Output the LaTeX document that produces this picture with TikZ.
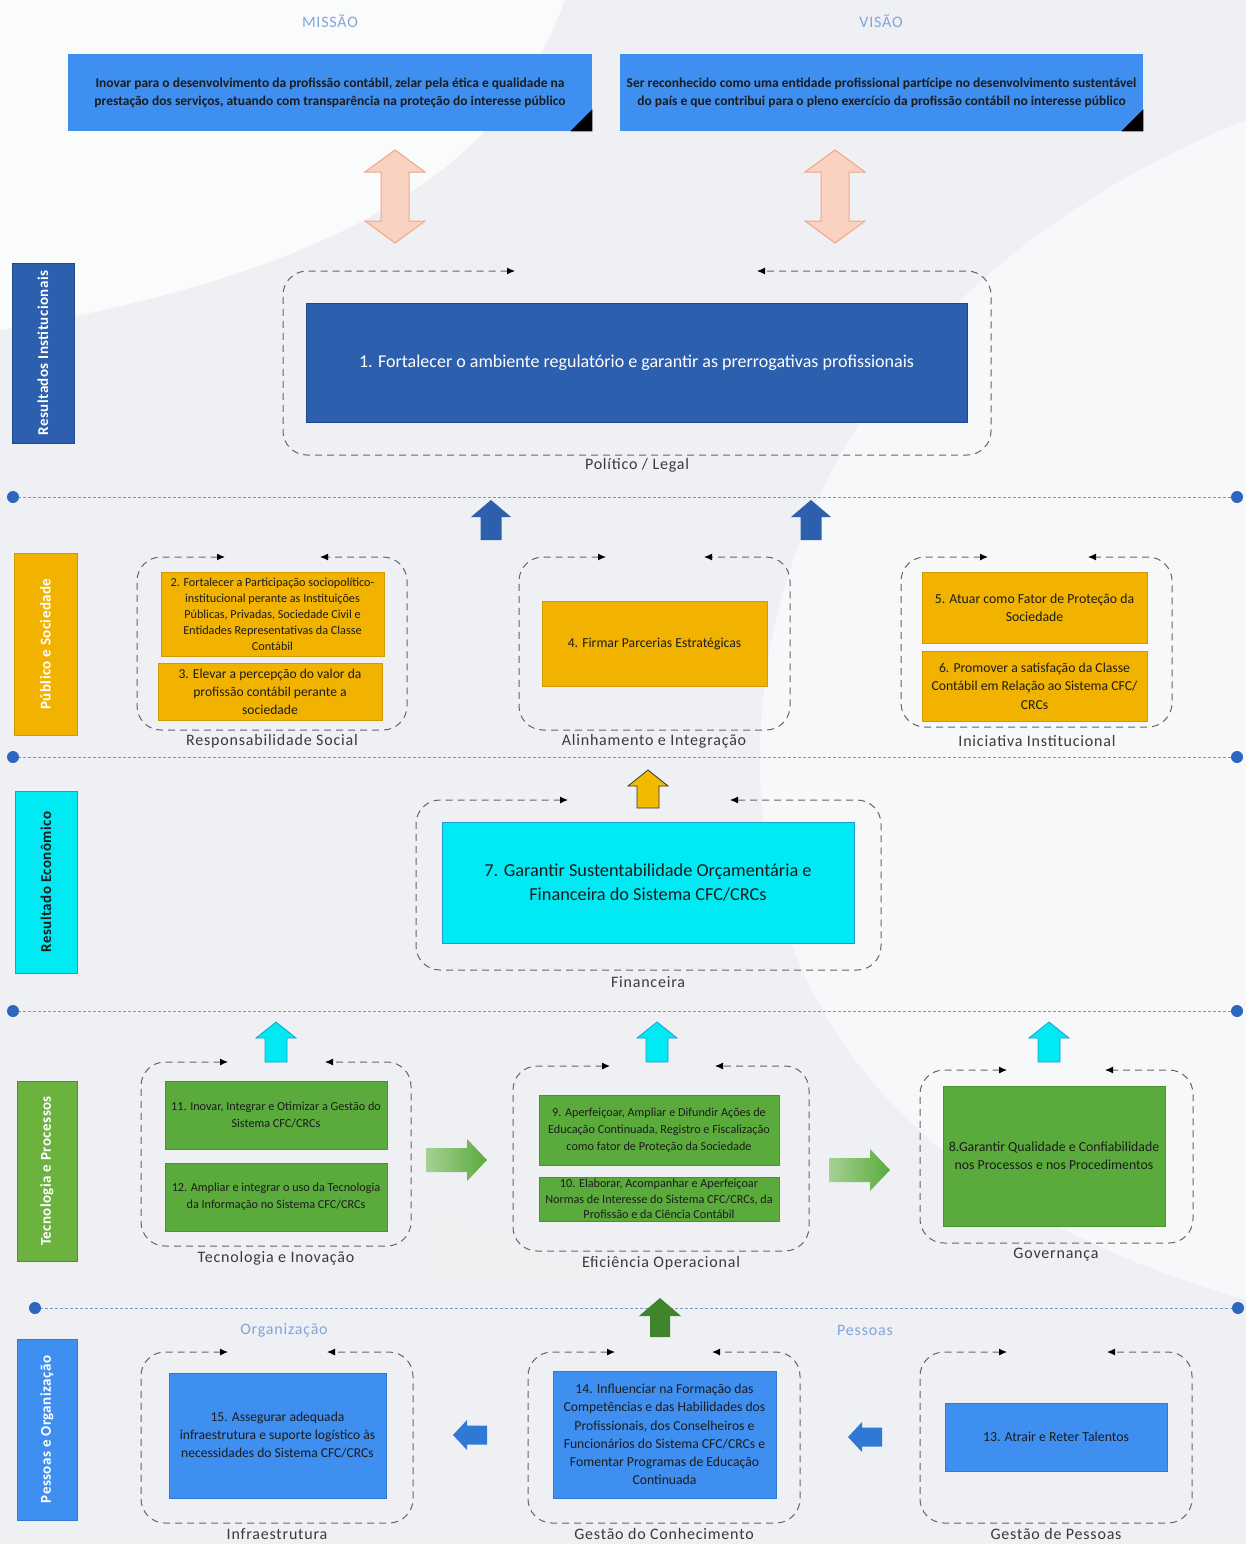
\documentclass[tikz,border=0pt]{standalone}
\usepackage{fontspec}
\setmainfont{Carlito}
\newfontfamily\lblfont[LetterSpace=5]{Carlito}
\newfontfamily\sidefont[LetterSpace=3]{Carlito}
\usetikzlibrary{arrows.meta,calc}
\definecolor{bgc}{HTML}{EFF0F3}
\definecolor{lblue}{HTML}{3F8FF0}
\definecolor{lbluedk}{HTML}{2F78D6}
\definecolor{dblue}{HTML}{2C5FAE}
\definecolor{dbluedk}{HTML}{1F4A8A}
\definecolor{gold}{HTML}{F2B300}
\definecolor{golddk}{HTML}{D49800}
\definecolor{cyanc}{HTML}{00EAF4}
\definecolor{cyandk}{HTML}{1E9CD2}
\definecolor{grn}{HTML}{5BAB3C}
\definecolor{grndk}{HTML}{479330}
\definecolor{sidegrn}{HTML}{6BB23F}
\definecolor{peach}{HTML}{FAD2C2}
\definecolor{peachdk}{HTML}{EFA588}
\definecolor{headc}{HTML}{7FA6DC}
\definecolor{sepc}{HTML}{7B97C9}
\definecolor{sepdot}{HTML}{2D66C0}
\definecolor{txt}{HTML}{1C1C1C}
\definecolor{lbl}{HTML}{3A3A3A}
\newcommand\barrow[8]{%
\path[#1,shift={(#2,#3)},rotate=#4] (-#5/2,-#8/2) -- ({#5/2-#6},-#8/2) -- ({#5/2-#6},-#7/2) -- (#5/2,0) -- ({#5/2-#6},#7/2) -- ({#5/2-#6},#8/2) -- (-#5/2,#8/2) -- cycle;}
\newcommand\dbarrow[7]{%
\path[#1,shift={(#2,#3)},rotate=90] (-#4/2,0) -- ({-#4/2+#5},-#6/2) -- ({-#4/2+#5},-#7/2) -- ({#4/2-#5},-#7/2) -- ({#4/2-#5},-#6/2) -- (#4/2,0) -- ({#4/2-#5},#6/2) -- ({#4/2-#5},#7/2) -- ({-#4/2+#5},#7/2) -- ({-#4/2+#5},#6/2) -- cycle;}
\newcommand\cont[6]{\draw[contour] (#5,#2) -- (#1,#2) -- (#1,#4) -- (#3,#4) -- (#3,#2) -- (#6,#2);}
\begin{document}
\begin{tikzpicture}[x=1pt,y=-1pt,
  box/.style={inner sep=2pt,align=center,text=txt,line width=0.6pt},
  bluebox/.style={box,fill=lblue,draw=lbluedk},
  goldbox/.style={box,fill=gold,draw=golddk},
  grnbox/.style={box,fill=grn,draw=grndk},
  cyanbox/.style={box,fill=cyanc,draw=cyandk},
  side/.style={rotate=90,inner sep=0pt,font=\sidefont\fontsize{15}{17}\selectfont\bfseries,text=white,line width=0.6pt},
  grplbl/.style={font=\lblfont\fontsize{16}{18}\selectfont,text=lbl},
  headlbl/.style={font=\lblfont\fontsize{16}{18}\selectfont,text=headc},
  contour/.style={draw=black!60,line width=1pt,dash pattern=on 7pt off 5pt,rounded corners=24pt,
    {Latex[length=8pt,width=7pt,color=black]}-{Latex[length=8pt,width=7pt,color=black]}},
  sepline/.style={draw=sepc,line width=1pt,dash pattern=on 2.5pt off 2.5pt},
  sepend/.style={fill=sepdot}]
\useasboundingbox (0,0) rectangle (1246,1544);
% background
\fill[bgc] (0,0) rectangle (1246,1544);
\fill[white,opacity=0.75] (0,0) -- (565,0) .. controls (520,120) and (420,260) .. (0,330) -- cycle;
\fill[white,opacity=0.55] (1246,120) .. controls (900,260) and (760,520) .. (760,760) .. controls (760,1000) and (900,1200) .. (1246,1300) -- cycle;
\fill[black!6,opacity=0.6] (430,1200) -- (640,1290) -- (430,1290) -- cycle;
% headers
\node[headlbl] (hm) at (330,21) {MISSÃO};
\node[headlbl] (hv) at (881,21) {VISÃO};
\node[bluebox,draw=none,minimum width=524pt,minimum height=77pt,font=\fontsize{13.5}{18}\selectfont\bfseries] (mis) at (330,92.5)
 {Inovar para o desenvolvimento da profissão contábil, zelar pela ética e qualidade na\\prestação dos serviços, atuando com transparência na proteção do interesse público};
\fill[black] (mis.south east) -- ++(-22,0) -- ++(22,-22) -- cycle;
\node[bluebox,draw=none,minimum width=523pt,minimum height=77pt,font=\fontsize{13.5}{18}\selectfont\bfseries] (vis) at (881.5,92.5)
 {Ser reconhecido como uma entidade profissional partícipe no desenvolvimento sustentável\\do país e que contribui para o pleno exercício da profissão contábil no interesse público};
\fill[black] (vis.south east) -- ++(-22,0) -- ++(22,-22) -- cycle;
% peach double arrows
\dbarrow{fill=peach,draw=peachdk,line width=1pt}{395}{196.5}{93}{22}{60}{28}
\dbarrow{fill=peach,draw=peachdk,line width=1pt}{835}{196.5}{93}{22}{60}{28}
% side labels
\node[side,fill=dblue,draw=dbluedk,minimum width=180pt,minimum height=62pt] (s1) at (43,353) {Resultados Institucionais};
\node[side,fill=gold,draw=golddk,minimum width=182pt,minimum height=63pt] (s2) at (45.5,644) {Público e Sociedade};
\node[side,fill=cyanc,draw=cyandk,text=txt,minimum width=182pt,minimum height=62pt] (s3) at (46,882) {Resultado Econômico};
\node[side,fill=sidegrn,draw=grndk,minimum width=180pt,minimum height=60pt] (s4) at (47,1171) {Tecnologia e Processos};
\node[side,fill=lblue,draw=lbluedk,minimum width=181pt,minimum height=60pt] (s5) at (47,1429.5) {Pessoas e Organização};
% level 1
\cont{283}{271}{991}{455}{515}{757}
\node[box,fill=dblue,draw=dbluedk,text=white,minimum width=661pt,minimum height=119pt,font=\fontsize{18}{21}\selectfont] (b1) at (636.5,362.5)
 {1. Fortalecer o ambiente regulatório e garantir as prerrogativas profissionais};
\node[grplbl] (g1) at (637,465) {Político / Legal};
% separator 1
\coordinate (p1a) at (13,497); \coordinate (p1b) at (1237,497);
\draw[sepline] (p1a) -- (p1b);
\fill[sepend] (p1a) circle (6); \fill[sepend] (p1b) circle (6);
\barrow{fill=dblue}{491}{520}{90}{40}{17}{40}{21}
\barrow{fill=dblue}{811}{520}{90}{40}{17}{40}{21}
% level 2
\cont{137}{557}{407}{730}{225}{320}
\node[goldbox,minimum width=223pt,minimum height=84pt,font=\fontsize{12.2}{16}\selectfont] (b2) at (272.5,614)
 {2. Fortalecer a Participação sociopolítico-\\institucional perante as Instituições\\Públicas, Privadas, Sociedade Civil e\\Entidades Representativas da Classe\\Contábil};
\node[goldbox,minimum width=224pt,minimum height=57pt,font=\fontsize{13.6}{18}\selectfont] (b3) at (270,691.5)
 {3. Elevar a percepção do valor da\\profissão contábil perante a\\sociedade};
\node[grplbl] (g2) at (272,741) {Responsabilidade Social};
\cont{519}{557}{790}{730}{606}{704}
\node[goldbox,minimum width=225pt,minimum height=85pt,font=\fontsize{13.7}{18}\selectfont] (b4) at (654.5,643.5)
 {4. Firmar Parcerias Estratégicas};
\node[grplbl] (g3) at (654,741) {Alinhamento e Integração};
\cont{901}{557}{1172}{727}{988}{1088}
\node[goldbox,minimum width=225pt,minimum height=71pt,font=\fontsize{13.8}{18}\selectfont] (b5) at (1034.5,607.5)
 {5. Atuar como Fator de Proteção da\\Sociedade};
\node[goldbox,minimum width=225pt,minimum height=70pt,font=\fontsize{13.7}{18.5}\selectfont] (b6) at (1034.5,686)
 {6. Promover a satisfação da Classe\\Contábil em Relação ao Sistema CFC/\\CRCs};
\node[grplbl] (g4) at (1037,741) {Iniciativa Institucional};
% separator 2
\coordinate (p2a) at (13,757); \coordinate (p2b) at (1237,757);
\draw[sepline] (p2a) -- (p2b);
\fill[sepend] (p2a) circle (6); \fill[sepend] (p2b) circle (6);
\barrow{fill=gold!90!yellow,draw=black!80,line width=0.8pt}{648}{789}{90}{38}{16}{40}{22}
% level 3
\cont{416}{800}{881}{970}{568}{730}
\node[cyanbox,minimum width=412pt,minimum height=121pt,font=\fontsize{18.3}{24}\selectfont] (b7) at (648,882.5)
 {7. Garantir Sustentabilidade Orçamentária e\\Financeira do Sistema CFC/CRCs};
\node[grplbl] (g5) at (648,982) {Financeira};
% separator 3
\coordinate (p3a) at (13,1011); \coordinate (p3b) at (1237,1011);
\draw[sepline] (p3a) -- (p3b);
\fill[sepend] (p3a) circle (6); \fill[sepend] (p3b) circle (6);
\barrow{fill=cyanc,draw=cyandk,line width=0.8pt}{276}{1042}{90}{40}{16}{40}{22}
\barrow{fill=cyanc,draw=cyandk,line width=0.8pt}{657}{1042}{90}{40}{16}{40}{22}
\barrow{fill=cyanc,draw=cyandk,line width=0.8pt}{1049}{1042}{90}{40}{16}{40}{22}
% level 4
\cont{141}{1062}{411}{1246}{228}{325}
\node[grnbox,minimum width=222pt,minimum height=68pt,font=\fontsize{12.2}{17}\selectfont] (b11) at (276,1115)
 {11. Inovar, Integrar e Otimizar a Gestão do\\Sistema CFC/CRCs};
\node[grnbox,minimum width=222pt,minimum height=68pt,font=\fontsize{12.2}{17}\selectfont] (b12) at (276,1197)
 {12. Ampliar e integrar o uso da Tecnologia\\da Informação no Sistema CFC/CRCs};
\node[grplbl] (g6) at (276,1258) {Tecnologia e Inovação};
\barrow{left color=grn!55!white,right color=grn}{456.5}{1160}{0}{61}{20}{42}{24}
\cont{513}{1066}{809}{1251}{610}{715}
\node[grnbox,minimum width=240pt,minimum height=70pt,font=\fontsize{12.2}{17}\selectfont] (b9) at (659,1130)
 {9. Aperfeiçoar, Ampliar e Difundir Ações de\\Educação Continuada, Registro e Fiscalização\\como fator de Proteção da Sociedade};
\node[grnbox,minimum width=240pt,minimum height=44pt,inner sep=0pt,font=\fontsize{12.2}{15.5}\selectfont] (b10) at (659,1199)
 {10. Elaborar, Acompanhar e Aperfeiçoar\\Normas de Interesse do Sistema CFC/CRCs, da\\Profissão e da Ciência Contábil};
\node[grplbl] (g7) at (661,1263) {Eficiência Operacional};
\barrow{left color=grn!55!white,right color=grn}{859.5}{1170}{0}{61}{20}{42}{24}
\cont{920}{1070}{1193}{1243}{1007}{1105}
\node[grnbox,minimum width=222pt,minimum height=140pt,font=\fontsize{13.8}{18}\selectfont] (b8) at (1054,1156)
 {8.Garantir Qualidade e Confiabilidade\\nos Processos e nos Procedimentos};
\node[grplbl] (g8) at (1056,1255) {Governança};
% separator 4
\coordinate (p4a) at (35,1308); \coordinate (p4b) at (1238,1308);
\draw[sepline] (p4a) -- (p4b);
\fill[sepend] (p4a) circle (6); \fill[sepend] (p4b) circle (6);
\barrow{fill=grndk!90!black}{660}{1317.5}{90}{39}{18}{42}{20}
% level 5
\node[headlbl] (ho) at (284,1330) {Organização};
\node[headlbl] (hp) at (865,1330) {Pessoas};
\cont{141}{1352}{413}{1523}{228}{327}
\node[bluebox,minimum width=217pt,minimum height=125pt,font=\fontsize{13.6}{18}\selectfont] (b15) at (277.5,1435.5)
 {15. Assegurar adequada\\infraestrutura e suporte logístico às\\necessidades do Sistema CFC/CRCs};
\node[grplbl] (g9) at (277,1534) {Infraestrutura};
\barrow{fill=lbluedk}{470}{1435}{180}{34}{14}{30}{19}
\cont{528}{1352}{800}{1523}{615}{712}
\node[bluebox,minimum width=223pt,minimum height=127pt,font=\fontsize{13.7}{18.2}\selectfont] (b14) at (664.5,1434.5)
 {14. Influenciar na Formação das\\Competências e das Habilidades dos\\Profissionais, dos Conselheiros e\\Funcionários do Sistema CFC/CRCs e\\Fomentar Programas de Educação\\Continuada};
\node[grplbl] (g10) at (664,1534) {Gestão do Conhecimento};
\barrow{fill=lbluedk}{865}{1437}{180}{34}{14}{30}{19}
\cont{920}{1352}{1192}{1523}{1007}{1107}
\node[bluebox,minimum width=222pt,minimum height=68pt,font=\fontsize{13.8}{18}\selectfont] (b13) at (1056,1437)
 {13. Atrair e Reter Talentos};
\node[grplbl] (g11) at (1056,1534) {Gestão de Pessoas};
\end{tikzpicture}
\end{document}
